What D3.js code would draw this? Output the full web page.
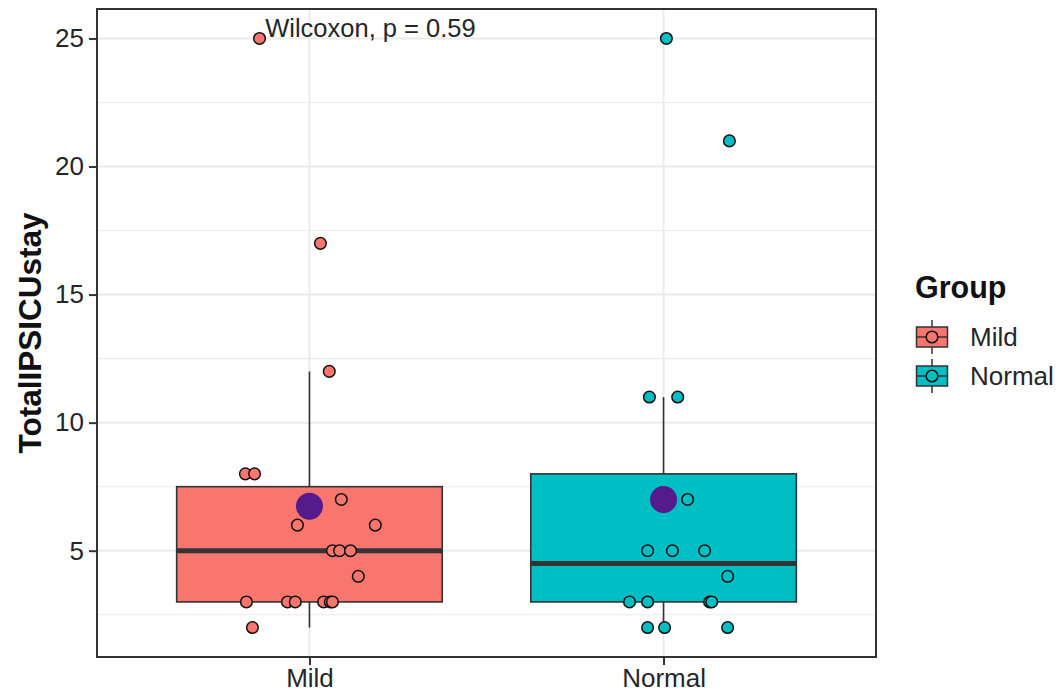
<!DOCTYPE html>
<html>
<head>
<meta charset="utf-8">
<script src="https://cdn.jsdelivr.net/npm/d3@7"></script>
<style>
  html, body { margin: 0; padding: 0; background: #fff; }
  svg { display: block; font-family: "Liberation Sans", Arial, sans-serif; }
</style>
</head>
<body>
<svg id="chart" width="1061" height="692"></svg>
<script>
// Groups and their fill colours
const categories = ["Mild", "Normal"];
const groupColors = ["#F8766D", "#00BFC4"];

// TotalIPSICUstay observations per group, with horizontal jitter (in units of category spacing)
const mildValues  = [25, 17, 12, 8, 8, 7, 6, 6, 5, 5, 5, 4, 3, 3, 3, 3, 3, 3, 2];
const mildJitter  = [-0.141, 0.031, 0.056, -0.181, -0.155, 0.090, -0.034, 0.186, 0.065, 0.085, 0.116, 0.138, -0.178, -0.062, -0.040, 0.040, 0.059, 0.065, -0.161];
const normalValues = [25, 21, 11, 11, 7, 5, 5, 5, 4, 3, 3, 3, 3, 2, 2, 2];
const normalJitter = [0.008, 0.186, -0.040, 0.040, 0.068, -0.045, 0.025, 0.116, 0.181, -0.096, -0.045, 0.130, 0.136, -0.045, 0.003, 0.181];

const yTicks = [5, 10, 15, 20, 25];
const yMinor = [2.5, 7.5, 12.5, 17.5, 22.5];
const yTitle = "TotalIPSICUstay";
const legendTitle = "Group";
const testLabel = "Wilcoxon, p = 0.59";
const meanColor = "#551A8B";

const groups = [
  { name: categories[0], values: mildValues, jitter: mildJitter, color: groupColors[0] },
  { name: categories[1], values: normalValues, jitter: normalJitter, color: groupColors[1] }
];

const svg = d3.select("#chart");
const panel = { left: 97, right: 876, top: 9, bottom: 657 };
const ink = "#333333";
const textInk = "#262626";

// Scales: continuous y with 5% expansion, discrete x with 0.6 expansion
const all = groups.flatMap(g => g.values);
const [lo, hi] = d3.extent(all);
const pad = (hi - lo) * 0.05;
const y = d3.scaleLinear().domain([lo - pad, hi + pad]).range([panel.bottom, panel.top]);
const x = d3.scalePoint().domain(categories).range([panel.left, panel.right]).padding(0.6);
const step = x.step();

// Box statistics (R type-7 quantiles, 1.5 IQR whiskers)
groups.forEach(g => {
  const s = g.values.slice().sort(d3.ascending);
  g.q1 = d3.quantile(s, 0.25);
  g.med = d3.quantile(s, 0.5);
  g.q3 = d3.quantile(s, 0.75);
  const iqr = g.q3 - g.q1;
  g.wLo = d3.min(s.filter(v => v >= g.q1 - 1.5 * iqr));
  g.wHi = d3.max(s.filter(v => v <= g.q3 + 1.5 * iqr));
  g.mean = d3.mean(s);
});

// Panel grid
const grid = svg.append("g");
grid.selectAll("line.minor").data(yMinor).join("line")
  .attr("x1", panel.left).attr("x2", panel.right)
  .attr("y1", d => y(d)).attr("y2", d => y(d))
  .attr("stroke", "#EBEBEB").attr("stroke-width", 1.1);
grid.selectAll("line.major").data(yTicks).join("line")
  .attr("x1", panel.left).attr("x2", panel.right)
  .attr("y1", d => y(d)).attr("y2", d => y(d))
  .attr("stroke", "#EBEBEB").attr("stroke-width", 2);
grid.selectAll("line.vmajor").data(categories).join("line")
  .attr("x1", d => x(d)).attr("x2", d => x(d))
  .attr("y1", panel.top).attr("y2", panel.bottom)
  .attr("stroke", "#EBEBEB").attr("stroke-width", 2);

// Boxplots
const boxW = step * 0.75;
const boxes = svg.append("g").selectAll("g").data(groups).join("g");
boxes.append("line")
  .attr("x1", d => x(d.name)).attr("x2", d => x(d.name))
  .attr("y1", d => y(d.q3)).attr("y2", d => y(d.wHi))
  .attr("stroke", ink).attr("stroke-width", 1.6);
boxes.append("line")
  .attr("x1", d => x(d.name)).attr("x2", d => x(d.name))
  .attr("y1", d => y(d.q1)).attr("y2", d => y(d.wLo))
  .attr("stroke", ink).attr("stroke-width", 1.6);
boxes.append("rect")
  .attr("x", d => x(d.name) - boxW / 2).attr("width", boxW)
  .attr("y", d => y(d.q3)).attr("height", d => y(d.q1) - y(d.q3))
  .attr("fill", d => d.color).attr("stroke", ink).attr("stroke-width", 1.6);
boxes.append("line")
  .attr("x1", d => x(d.name) - boxW / 2).attr("x2", d => x(d.name) + boxW / 2)
  .attr("y1", d => y(d.med)).attr("y2", d => y(d.med))
  .attr("stroke", ink).attr("stroke-width", 5);

// Jittered observations
const pts = svg.append("g");
groups.forEach(g => {
  pts.selectAll(null).data(g.values.map((v, i) => ({ v, j: g.jitter[i] }))).join("circle")
    .attr("cx", d => x(g.name) + d.j * step)
    .attr("cy", d => y(d.v))
    .attr("r", 5.8)
    .attr("fill", g.color)
    .attr("stroke", "#111").attr("stroke-width", 1.5);
});

// Group means
svg.append("g").selectAll("circle").data(groups).join("circle")
  .attr("cx", d => x(d.name)).attr("cy", d => y(d.mean))
  .attr("r", 13.5).attr("fill", meanColor);

// Test annotation
svg.append("text")
  .attr("x", x(categories[0]) - step * 0.125)
  .attr("y", y(25) - 1.5)
  .attr("font-size", 25.5).attr("fill", textInk)
  .text(testLabel);

// Panel border
svg.append("rect")
  .attr("x", panel.left).attr("y", panel.top)
  .attr("width", panel.right - panel.left).attr("height", panel.bottom - panel.top)
  .attr("fill", "none").attr("stroke", ink).attr("stroke-width", 2);

// Axes
const yAxis = svg.append("g").attr("transform", `translate(${panel.left},0)`)
  .call(d3.axisLeft(y).tickValues(yTicks).tickSize(8).tickPadding(5));
const xAxis = svg.append("g").attr("transform", `translate(0,${panel.bottom})`)
  .call(d3.axisBottom(x).tickSize(8).tickPadding(4));
[yAxis, xAxis].forEach(a => {
  a.select(".domain").remove();
  a.selectAll(".tick line").attr("stroke", ink).attr("stroke-width", 2);
  a.selectAll(".tick text").attr("font-size", 26).attr("fill", textInk)
    .attr("font-family", "Liberation Sans, Arial, sans-serif");
});

// Y axis title
svg.append("text")
  .attr("transform", `translate(41,${(panel.top + panel.bottom) / 2}) rotate(-90)`)
  .attr("text-anchor", "middle")
  .attr("font-size", 31.5).attr("font-weight", "bold").attr("fill", "#111")
  .text(yTitle);

// Legend
const legend = svg.append("g");
legend.append("text")
  .attr("x", 915).attr("y", 298)
  .attr("font-size", 30.5).attr("font-weight", "bold").attr("fill", "#111")
  .text(legendTitle);
const keys = legend.selectAll("g.key").data(groups).join("g")
  .attr("transform", (d, i) => `translate(932,${337 + i * 39})`);
keys.append("line").attr("y1", -17).attr("y2", 17).attr("stroke", ink).attr("stroke-width", 1.5);
keys.append("rect").attr("x", -15.5).attr("y", -10).attr("width", 31).attr("height", 20)
  .attr("fill", d => d.color).attr("stroke", ink).attr("stroke-width", 1.5);
keys.append("line").attr("x1", -15.5).attr("x2", 15.5).attr("stroke", ink).attr("stroke-width", 1.5);
keys.append("circle").attr("r", 5.8).attr("fill", d => d.color).attr("stroke", "#111").attr("stroke-width", 1.5);
keys.append("text").attr("x", 38).attr("dy", "0.35em")
  .attr("font-size", 26).attr("fill", textInk)
  .text(d => d.name);
</script>
</body>
</html>
